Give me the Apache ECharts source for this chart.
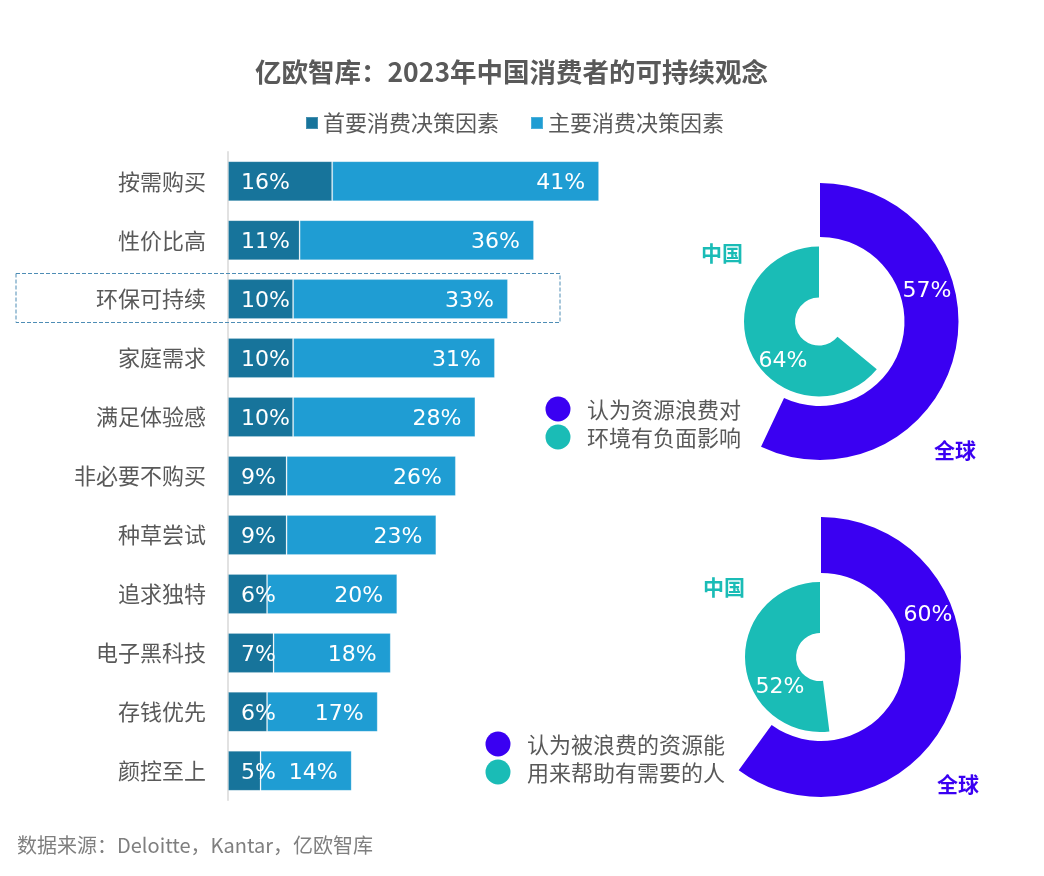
<!DOCTYPE html>
<html><head><meta charset="utf-8">
<script src="https://cdn.jsdelivr.net/npm/echarts@6/dist/echarts.min.js"></script>
<style>html,body{margin:0;padding:0;background:#fff}#c{width:1044px;height:876px}</style>
</head><body><div id="c"></div>
<script>
// ---- data ----
const categories = ['按需购买','性价比高','环保可持续','家庭需求','满足体验感','非必要不购买','种草尝试','追求独特','电子黑科技','存钱优先','颜控至上'];
const primaryFactor = [16,11,10,10,10,9,9,6,7,6,5];
const mainFactor = [41,36,33,31,28,26,23,20,18,17,14];
const barSeriesNames = ['首要消费决策因素','主要消费决策因素'];
const regionNames = ['中国','全球'];
const envImpact = [64, 57];      // 认为资源浪费对环境有负面影响: 中国, 全球
const helpNeedy = [52, 60];      // 认为被浪费的资源能用来帮助有需要的人: 中国, 全球
const envImpactLegend = ['认为资源浪费对','环境有负面影响'];
const helpNeedyLegend = ['认为被浪费的资源能','用来帮助有需要的人'];
const titleText = '亿欧智库：2023年中国消费者的可持续观念';
const sourceText = '数据来源：Deloitte，Kantar，亿欧智库';

// ---- styles ----
const CJK = '"Noto Sans CJK SC", "Noto Sans", sans-serif';
const NUM = '"DejaVu Sans", Verdana, sans-serif';
const DARK = '#17749B';
const LIGHT = '#1F9DD3';
const PURPLE = '#3A00F2';
const TEAL = '#1ABCB6';
const GRAY = '#595959';

function ring(name, value, center, radius, color, clockwise) {
  return {
    type: 'pie', name: name, center: center, radius: radius,
    startAngle: 90, endAngle: clockwise ? 90 - value * 3.6 : 90 + value * 3.6,
    clockwise: clockwise, silent: true, animation: false,
    label: { show: false }, labelLine: { show: false },
    emphasis: { disabled: true },
    itemStyle: { color: color, borderWidth: 0 },
    data: [{ name: name, value: value }]
  };
}

function txt(text, x, y, size, color, opts) {
  opts = opts || {};
  return {
    type: 'text', z: 100, silent: true,
    style: {
      text: text, x: x, y: y, fill: color,
      fontSize: size, fontFamily: opts.family || CJK, fontWeight: opts.weight || 'normal',
      align: opts.align || 'left', verticalAlign: 'middle'
    }
  };
}

const chart = echarts.init(document.getElementById('c'), null, { renderer: 'canvas' });

const option = {
  backgroundColor: '#ffffff',
  animation: false,
  legend: {
    data: barSeriesNames,
    left: 300, top: 107, padding: 5,
    icon: 'rect', itemWidth: 12, itemHeight: 12, itemGap: 31,
    textStyle: { fontSize: 22, color: GRAY, fontFamily: CJK },
    selectedMode: false
  },
  grid: { left: 228, top: 151.7, width: 390.6, height: 648.6, containLabel: false },
  xAxis: { type: 'value', min: 0, max: 60, show: false },
  yAxis: {
    type: 'category', data: categories, inverse: true,
    axisLine: { show: true, lineStyle: { color: '#D9D9D9', width: 1.5 } },
    axisTick: { show: false },
    splitLine: { show: false },
    axisLabel: { fontSize: 22, color: GRAY, fontFamily: CJK, margin: 22 }
  },
  series: [
    {
      type: 'bar', name: barSeriesNames[0], stack: 'total', data: primaryFactor,
      barWidth: 40, silent: true,
      itemStyle: { color: DARK, borderColor: 'rgba(255,255,255,0.2)', borderWidth: 1 },
      label: { show: true, position: 'insideLeft', distance: 13, offset: [0, 2], formatter: '{c}%',
               color: '#fff', fontSize: 22, fontFamily: NUM }
    },
    {
      type: 'bar', name: barSeriesNames[1], stack: 'total', data: mainFactor,
      barWidth: 40, silent: true,
      itemStyle: { color: LIGHT, borderColor: 'rgba(255,255,255,0.2)', borderWidth: 1 },
      label: { show: true, position: 'insideRight', distance: 14, offset: [0, 2], formatter: '{c}%',
               color: '#fff', fontSize: 22, fontFamily: NUM }
    },
    ring(regionNames[1] + '-env', envImpact[1], [820, 321.5], [84.5, 138.5], PURPLE, true),
    ring(regionNames[0] + '-env', envImpact[0], [819, 321.5], [24, 75], TEAL, false),
    ring(regionNames[1] + '-help', helpNeedy[1], [821, 657], [84, 140], PURPLE, true),
    ring(regionNames[0] + '-help', helpNeedy[0], [820, 657], [24, 75], TEAL, false)
  ],
  graphic: [
    txt(titleText, 511.5, 72, 26.5, GRAY, { weight: 'bold', align: 'center' }),
    {
      type: 'rect', z: 90, silent: true,
      shape: { x: 16, y: 273.5, width: 544, height: 49 },
      style: { fill: 'none', stroke: '#4E8DB5', lineWidth: 1, lineDash: [4, 2] }
    },
    // ring labels
    txt(envImpact[1] + '%', 927, 291, 22, '#fff', { family: NUM, align: 'center' }),
    txt(envImpact[0] + '%', 783, 361, 22, '#fff', { family: NUM, align: 'center' }),
    txt(helpNeedy[1] + '%', 928, 615, 22, '#fff', { family: NUM, align: 'center' }),
    txt(helpNeedy[0] + '%', 780, 687, 22, '#fff', { family: NUM, align: 'center' }),
    txt(regionNames[0], 722, 253, 21, TEAL, { weight: 'bold', align: 'center' }),
    txt(regionNames[1], 955, 450, 21, PURPLE, { weight: 'bold', align: 'center' }),
    txt(regionNames[0], 724, 587, 21, TEAL, { weight: 'bold', align: 'center' }),
    txt(regionNames[1], 958, 784, 21, PURPLE, { weight: 'bold', align: 'center' }),
    // ring legends
    { type: 'circle', z: 100, silent: true, shape: { cx: 558, cy: 409, r: 12.5 }, style: { fill: PURPLE } },
    { type: 'circle', z: 100, silent: true, shape: { cx: 558, cy: 437, r: 12.5 }, style: { fill: TEAL } },
    txt(envImpactLegend[0], 587, 410, 22, GRAY),
    txt(envImpactLegend[1], 587, 438, 22, GRAY),
    { type: 'circle', z: 100, silent: true, shape: { cx: 498, cy: 744, r: 12.5 }, style: { fill: PURPLE } },
    { type: 'circle', z: 100, silent: true, shape: { cx: 498, cy: 772, r: 12.5 }, style: { fill: TEAL } },
    txt(helpNeedyLegend[0], 527, 745, 22, GRAY),
    txt(helpNeedyLegend[1], 527, 773, 22, GRAY),
    // source
    txt(sourceText, 17, 845, 20, '#7F7F7F')
  ]
};
chart.setOption(option);
</script>
</body></html>
